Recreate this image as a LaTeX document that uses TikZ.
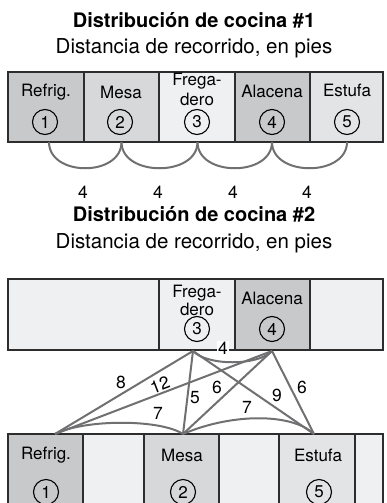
\documentclass[tikz,border=0pt]{standalone}
\usepackage{fontspec}
\setmainfont{TeX Gyre Heros}
\usepackage{tikz}
\usetikzlibrary{positioning,calc}
\definecolor{celldark}{RGB}{200,201,203}
\definecolor{cellmid}{RGB}{215,216,218}
\definecolor{cellpale}{RGB}{227,228,230}
\definecolor{celllight}{RGB}{239,240,242}
\definecolor{walkgray}{RGB}{112,112,114}
\definecolor{edgegray}{RGB}{45,45,45}

\tikzset{
  cell/.style={draw=edgegray, line width=1.2pt},
  station/.style={font=\fontsize{17}{20}\selectfont, inner sep=0pt, align=center},
  numcirc/.style={circle, draw=black, line width=1.1pt, minimum size=25pt,
                  inner sep=0pt, font=\fontsize{17}{17}\selectfont},
  walk/.style={draw=walkgray, line width=2pt},
  dist/.style={font=\fontsize{17.5}{17.5}\selectfont, inner sep=1pt},
  headline/.style={font=\fontsize{20}{20}\selectfont\bfseries},
  subline/.style={font=\fontsize{20.5}{20.5}\selectfont}
}

\begin{document}
\begin{tikzpicture}[x=1pt,y=-1pt]
    \useasboundingbox (0,0) rectangle (386,503);
    \clip (0,0) rectangle (386,503);

    % Distribucion 1
    \node[headline] (title1) at (194,20) {Distribución de cocina \#1};
    \node[subline] (sub1) at (194,48) {Distancia de recorrido, en pies};

    \draw[cell, fill=celldark]  (8,72) rectangle (84,142);
    \draw[cell, fill=cellmid]   (84,72) rectangle (159,142);
    \draw[cell, fill=celllight] (159,72) rectangle (235,142);
    \draw[cell, fill=celldark]  (235,72) rectangle (310,142);
    \draw[cell, fill=cellpale]  (310,72) rectangle (383,142);

    \node[station] (refrigA) at (46,92) {Refrig.};
    \node[station] (mesaA) at (121,92) {Mesa};
    \node[station] (fregaA) at (197,89) {Frega-\\dero};
    \node[station] (alacenaA) at (272,91) {Alacena};
    \node[station] (estufaA) at (347,90) {Estufa};

    \node[numcirc] (n1a) at (45,122) {1};
    \node[numcirc] (n2a) at (120,122) {2};
    \node[numcirc] (n3a) at (197,122) {3};
    \node[numcirc] (n4a) at (272,122) {4};
    \node[numcirc] (n5a) at (347,122) {5};

    \coordinate (k1) at (49,142);
    \coordinate (k2) at (121.5,142);
    \coordinate (k3) at (197.5,142);
    \coordinate (k4) at (272,142);
    \coordinate (k5) at (347,142);

    \draw[walk] (k1) .. controls +(0,35) and +(0,35) .. (k2);
    \draw[walk] (k2) .. controls +(0,35) and +(0,35) .. (k3);
    \draw[walk] (k3) .. controls +(0,35) and +(0,35) .. (k4);
    \draw[walk] (k4) .. controls +(0,35) and +(0,35) .. (k5);

    \node[dist] (d12) at (83,192) {4};
    \node[dist] (d23) at (158,192) {4};
    \node[dist] (d34) at (233,192) {4};
    \node[dist] (d45) at (307,192) {4};

    % Distribucion 2
    \node[headline] (title2) at (194,214) {Distribución de cocina \#2};
    \node[subline] (sub2) at (194,243) {Distancia de recorrido, en pies};

    \draw[cell, fill=celllight] (8,279) rectangle (159,350);
    \draw[cell, fill=celllight] (159,279) rectangle (235,350);
    \draw[cell, fill=celldark]  (235,279) rectangle (310,350);
    \draw[cell, fill=celllight] (310,279) rectangle (383,350);

    \node[station, font=\fontsize{17}{18}\selectfont] (fregaB) at (197,300) {Frega-\\dero};
    \node[station] (alacenaB) at (272,298) {Alacena};
    \node[numcirc] (n3b) at (197,329) {3};
    \node[numcirc] (n4b) at (272,329) {4};

    \draw[cell, fill=celldark]  (8,434) rectangle (83,520);
    \draw[cell, fill=celllight] (83,434) rectangle (144,520);
    \draw[cell, fill=cellmid]   (144,434) rectangle (219,520);
    \draw[cell, fill=celllight] (219,434) rectangle (279,520);
    \draw[cell, fill=cellpale]  (279,434) rectangle (355,520);
    \draw[cell, fill=celllight] (355,434) rectangle (383,520);

    \node[station] (refrigB) at (46,455) {Refrig.};
    \node[station] (mesaB) at (182,455) {Mesa};
    \node[station] (estufaB) at (318,455) {Estufa};
    \node[numcirc] (n1b) at (46,492) {1};
    \node[numcirc] (n2b) at (183,492) {2};
    \node[numcirc] (n5b) at (319,492) {5};

    \coordinate (t3) at (193,351);
    \coordinate (t4) at (272,351);
    \coordinate (b1) at (55,434);
    \coordinate (b2) at (183,434);
    \coordinate (b5) at (314,434);

    \draw[walk] (t3) -- (b1);
    \draw[walk] (t3) -- (b2);
    \draw[walk] (t3) -- (b5);
    \draw[walk] (t4) -- (b1);
    \draw[walk] (t4) -- (b2);
    \draw[walk] (t4) -- (b5);
    \draw[walk] (t3) .. controls (207,366) and (258,366) .. (t4);
    \draw[walk] (b1) .. controls (85,419) and (160,419) .. (b2);
    \draw[walk] (b2) .. controls (232,413) and (292,413) .. (b5);

    \node[dist, fill=white] (e34) at (223,348) {4};
    \node[dist] (e13) at (121,382) {8};
    \node[dist, rotate=21] (e14) at (160,385) {12};
    \node[dist] (e23) at (195,398) {5};
    \node[dist] (e24) at (217,387) {6};
    \node[dist] (e35) at (277,395) {9};
    \node[dist] (e45) at (302,387) {6};
    \node[dist] (e12) at (158,413) {7};
    \node[dist] (e25) at (247,407) {7};
\end{tikzpicture}
\end{document}
